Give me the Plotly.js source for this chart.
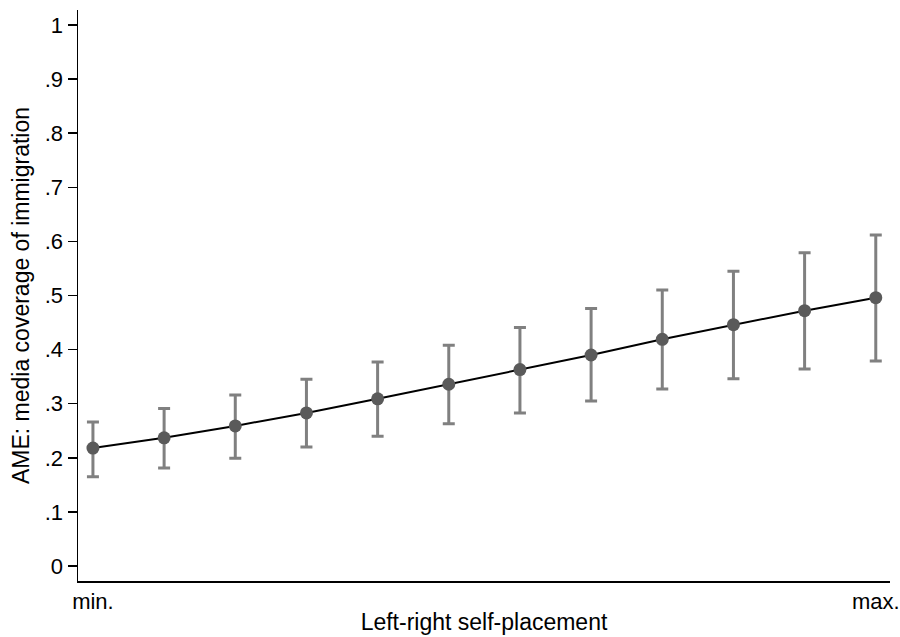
<!DOCTYPE html>
<html>
<head>
<meta charset="utf-8">
<script src="https://cdn.plot.ly/plotly-3.0.1.min.js"></script>
<style>html,body{margin:0;padding:0;background:#fff;}#chart{width:900px;height:637px;}</style>
</head>
<body>
<div id="chart"></div>
<script>
// Data
const positions = [1, 2, 3, 4, 5, 6, 7, 8, 9, 10, 11, 12];
const ame = [0.218, 0.237, 0.259, 0.283, 0.309, 0.336, 0.363, 0.390, 0.419, 0.446, 0.472, 0.496];
const ciUpper = [0.266, 0.291, 0.316, 0.345, 0.377, 0.408, 0.441, 0.476, 0.510, 0.545, 0.579, 0.612];
const ciLower = [0.165, 0.181, 0.199, 0.220, 0.240, 0.263, 0.283, 0.305, 0.327, 0.346, 0.364, 0.379];
const xTickVals = [1, 12];
const xTickText = ['min.', 'max.'];
const yTickVals = [0, 0.1, 0.2, 0.3, 0.4, 0.5, 0.6, 0.7, 0.8, 0.9, 1];
const yTickText = ['0', '.1', '.2', '.3', '.4', '.5', '.6', '.7', '.8', '.9', '1'];

const errPlus = ciUpper.map((u, i) => u - ame[i]);
const errMinus = ciLower.map((l, i) => ame[i] - l);

const trace = {
  x: positions,
  y: ame,
  type: 'scatter',
  mode: 'lines+markers',
  line: {color: '#000000', width: 2},
  marker: {color: '#5a5a5a', size: 13},
  error_y: {
    type: 'data',
    symmetric: false,
    array: errPlus,
    arrayminus: errMinus,
    color: '#808080',
    thickness: 3,
    width: 6
  },
  hoverinfo: 'skip'
};

const fam = '"Liberation Sans", Arial, sans-serif';
const fs = 22;
const tfs = 23;

const layout = {
  width: 900,
  height: 637,
  margin: {l: 78, r: 10, t: 10, b: 56},
  paper_bgcolor: '#ffffff',
  plot_bgcolor: '#ffffff',
  showlegend: false,
  font: {family: fam, color: '#000000', size: fs},
  xaxis: {
    range: [0.79, 12.2],
    tickvals: xTickVals,
    ticktext: xTickText,
    ticks: '',
    showgrid: false,
    zeroline: false,
    showline: true,
    linecolor: '#000000',
    linewidth: 1.5,
    automargin: false,
    tickfont: {family: fam, size: fs, color: '#000000'},
    title: {text: 'Left-right self-placement', font: {family: fam, size: tfs, color: '#000000'}, standoff: 1}
  },
  yaxis: {
    range: [-0.0277, 1.0277],
    tickvals: yTickVals,
    ticktext: yTickText,
    ticks: 'outside',
    ticklen: 9,
    tickwidth: 1.5,
    tickcolor: '#000000',
    showgrid: false,
    zeroline: false,
    showline: true,
    linecolor: '#000000',
    linewidth: 1.5,
    automargin: false,
    tickfont: {family: fam, size: fs, color: '#000000'},
    title: {text: 'AME: media coverage of immigration', font: {family: fam, size: tfs, color: '#000000'}, standoff: 8}
  }
};

Plotly.newPlot('chart', [trace], layout, {staticPlot: true, displayModeBar: false});
</script>
</body>
</html>
